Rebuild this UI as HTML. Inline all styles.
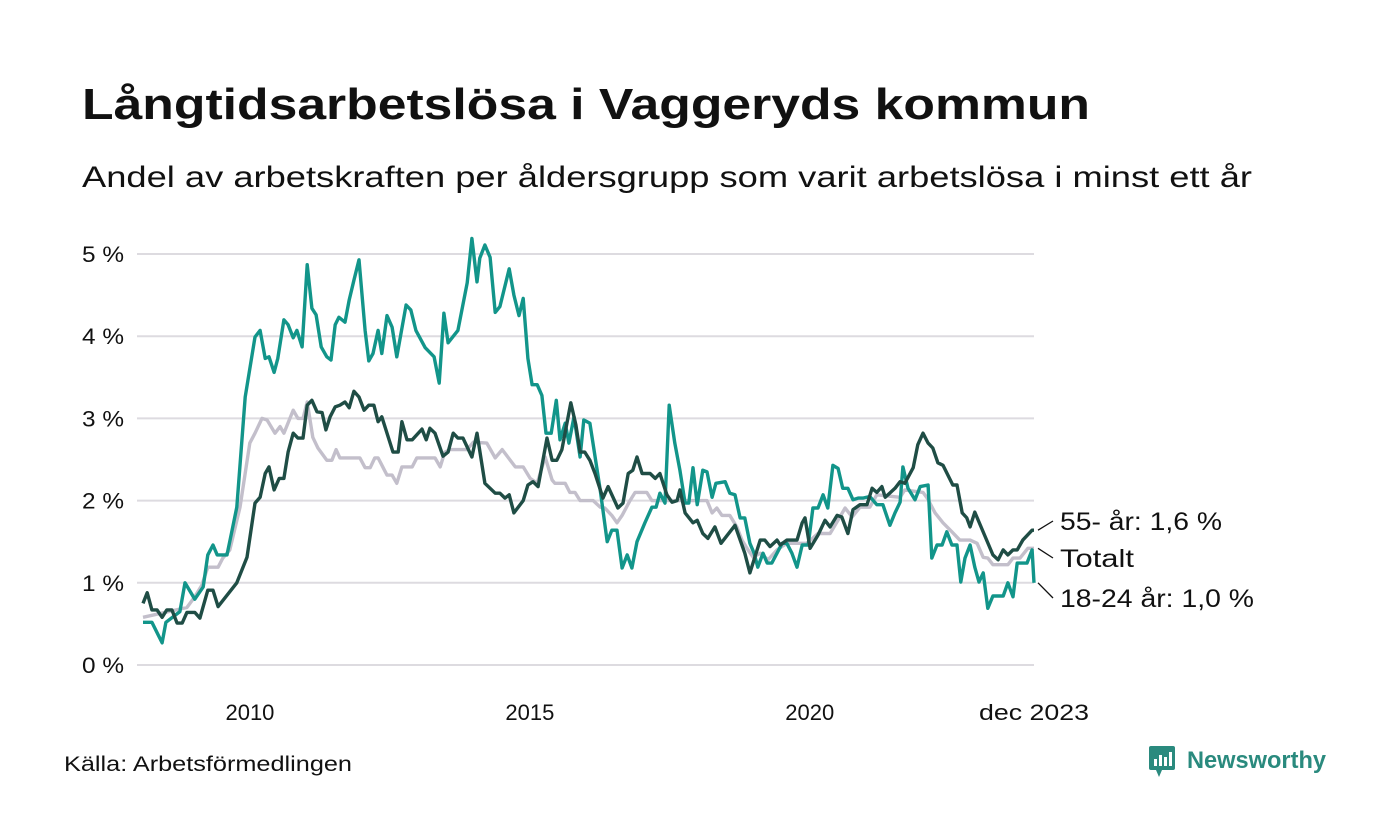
<!DOCTYPE html>
<html><head><meta charset="utf-8"><style>
body{margin:0;background:#fff;}
#wrap{position:relative;width:1400px;height:840px;overflow:hidden;font-family:"Liberation Sans","DejaVu Sans",sans-serif;color:#111;}
</style></head><body>
<div id="wrap">
<svg id="chart" width="1400" height="840">
<text x="82" y="119" font-size="44" font-weight="bold" fill="#111" textLength="1008" lengthAdjust="spacingAndGlyphs">Långtidsarbetslösa i Vaggeryds kommun</text>
<text x="82" y="187" font-size="30" fill="#111" textLength="1170" lengthAdjust="spacingAndGlyphs">Andel av arbetskraften per åldersgrupp som varit arbetslösa i minst ett år</text>
<g id="grid"></g><g id="xaxis"></g><g id="lines"></g><g id="labels"></g>
<text x="64" y="771" font-size="21" fill="#111" textLength="288" lengthAdjust="spacingAndGlyphs">Källa: Arbetsförmedlingen</text>
<g>
<rect x="1149" y="746" width="26" height="24" rx="2" fill="#2a8a7e"/>
<polygon points="1156,770 1162,770 1159,777" fill="#2a8a7e"/>
<rect x="1154" y="759" width="3" height="7" fill="#fff"/><rect x="1159" y="755" width="3" height="11" fill="#fff"/><rect x="1164" y="757" width="3" height="9" fill="#fff"/><rect x="1169" y="752" width="3" height="14" fill="#fff"/>
<text x="1187" y="768" font-size="24" font-weight="bold" fill="#2a8a7e" textLength="139" lengthAdjust="spacingAndGlyphs">Newsworthy</text>
</g>
</svg>
</div>
<script>
// months since Jan 2008 and values (%)
const yTicks=[0,1,2,3,4,5];
const xTickYears=[2010,2015,2020];
const youthMonths=[0,1.9,4.1,4.9,7.9,9.0,11.1,12.9,13.9,15.0,15.9,18.0,19.1,20.1,21.9,24.0,25.1,26.2,27.0,28.1,28.9,30.2,31.1,32.2,33.0,34.1,35.2,36.2,37.1,38.2,39.4,40.3,41.2,42.0,43.3,44.2,45.2,46.3,47.6,48.4,49.3,50.4,51.2,52.3,53.4,54.4,56.4,57.4,58.5,60.5,62.4,63.5,64.5,65.4,67.5,69.5,70.5,71.6,72.2,73.3,74.4,75.5,76.5,78.5,79.5,80.6,81.5,82.5,83.4,84.5,85.5,86.4,87.5,88.6,89.4,90.5,91.3,92.4,93.7,94.5,95.8,98.0,99.5,100.5,101.6,102.7,103.8,104.8,105.9,107.6,109.1,110.0,110.8,111.9,112.8,114.0,115.1,116.2,117.0,117.9,118.8,120.0,120.9,122.0,122.8,124.8,125.8,126.9,128.0,129.0,130.1,131.0,131.8,132.9,133.8,134.8,135.9,137.0,138.0,139.1,140.2,141.3,142.6,143.6,144.7,145.8,146.8,147.9,149.0,150.0,151.1,152.2,153.3,154.3,155.8,157.3,158.6,160.1,161.2,162.3,162.9,164.0,165.5,166.6,168.3,169.1,170.2,171.3,172.3,173.4,174.5,175.3,176.2,177.3,178.3,179.2,180.1,181.1,182.2,184.4,185.4,186.5,187.4,189.5,190.6,191.0];
const youthValues=[0.52,0.52,0.27,0.52,0.65,1.0,0.8,0.95,1.34,1.46,1.34,1.34,1.64,1.92,3.26,3.99,4.07,3.73,3.75,3.56,3.73,4.2,4.14,3.98,4.07,3.87,4.87,4.34,4.26,3.87,3.75,3.71,4.14,4.23,4.17,4.44,4.68,4.93,4.07,3.70,3.79,4.07,3.79,4.25,4.11,3.75,4.38,4.32,4.07,3.86,3.75,3.43,4.28,3.92,4.07,4.65,5.19,4.66,4.95,5.11,4.96,4.29,4.36,4.82,4.5,4.25,4.46,3.73,3.41,3.41,3.28,2.82,2.82,3.22,2.74,2.94,2.70,3.02,2.53,2.98,2.94,2.13,1.50,1.64,1.64,1.18,1.34,1.18,1.5,1.73,1.92,1.92,2.09,1.97,3.16,2.70,2.37,1.97,1.97,2.4,1.95,2.37,2.35,2.04,2.21,2.23,2.09,2.07,1.79,1.79,1.48,1.36,1.19,1.36,1.24,1.24,1.36,1.48,1.48,1.36,1.19,1.46,1.46,1.91,1.91,2.07,1.91,2.43,2.39,2.15,2.15,2.01,2.03,2.03,2.05,1.95,1.95,1.7,1.85,1.98,2.41,2.15,2.01,2.17,2.19,1.30,1.46,1.46,1.62,1.46,1.46,1.01,1.30,1.46,1.19,1.01,1.12,0.69,0.84,0.84,1.0,0.83,1.24,1.24,1.4,1.0];
const seniorMonths=[0,0.9,1.9,3.0,4.1,5.1,6.2,7.3,8.4,9.4,11.1,12.2,13.9,15.0,16.1,20.1,22.3,24.0,25.1,26.2,27.0,28.1,29.2,30.2,31.1,32.2,33.2,34.3,35.2,36.2,37.3,38.4,39.2,40.1,41.2,42.2,43.3,44.2,45.2,46.3,47.4,48.4,49.5,50.4,51.2,53.6,54.7,55.5,56.6,57.7,59.8,60.7,61.5,62.6,64.3,65.4,66.5,67.5,68.6,70.5,71.6,73.3,75.5,76.5,77.6,78.5,79.5,81.5,82.5,83.6,84.7,86.6,87.7,88.7,89.8,91.7,92.8,93.7,94.7,95.8,96.9,98.6,99.7,101.8,102.9,104.0,105.0,105.9,107.0,108.7,109.8,110.8,112.3,113.4,114.5,115.1,116.2,117.9,118.8,120.0,121.1,122.6,123.9,126.9,129.0,130.1,132.3,133.3,134.4,135.9,136.6,138.0,140.2,141.3,141.9,143.0,144.7,146.2,147.3,148.8,149.8,151.1,152.2,153.7,155.2,156.3,157.3,158.4,159.1,161.2,162.3,163.3,165.1,166.1,167.2,168.3,169.3,170.4,171.5,173.6,174.5,175.6,176.6,177.3,178.3,182.2,183.3,184.4,185.4,186.5,187.4,188.6,190.6,191.0];
const seniorValues=[0.75,0.88,0.67,0.67,0.58,0.67,0.67,0.51,0.51,0.64,0.64,0.57,0.91,0.91,0.71,1.0,1.31,1.97,2.04,2.33,2.41,2.13,2.27,2.27,2.59,2.82,2.76,2.76,3.16,3.22,3.08,3.07,2.86,3.02,3.14,3.16,3.2,3.13,3.33,3.26,3.1,3.16,3.16,2.96,3.02,2.59,2.59,2.96,2.74,2.74,2.87,2.74,2.88,2.82,2.54,2.59,2.82,2.76,2.76,2.53,2.82,2.21,2.09,2.09,2.03,2.07,1.85,2.0,2.19,2.23,2.17,2.76,2.49,2.49,2.62,3.19,2.92,2.59,2.59,2.49,2.33,2.03,2.17,1.91,1.97,2.33,2.37,2.53,2.33,2.33,2.27,2.33,2.07,1.98,2.0,2.13,1.85,1.73,1.76,1.6,1.54,1.68,1.48,1.7,1.36,1.12,1.52,1.52,1.44,1.52,1.46,1.52,1.52,1.73,1.79,1.42,1.58,1.76,1.68,1.82,1.8,1.6,1.89,1.95,1.95,2.15,2.1,2.17,2.04,2.15,2.23,2.21,2.4,2.68,2.82,2.7,2.64,2.46,2.43,2.19,2.19,1.85,1.79,1.68,1.86,1.34,1.28,1.4,1.34,1.4,1.4,1.52,1.64,1.64];
const totalMonths=[0,9.4,11.1,12.6,13.9,16.1,17.1,18.6,20.8,22.9,24.0,25.5,26.6,28.3,29.4,30.2,32.2,33.2,34.3,35.2,36.4,37.5,39.4,40.5,41.4,42.2,46.5,47.6,48.7,49.7,50.4,52.3,53.4,54.4,55.5,57.7,58.7,62.6,63.7,64.7,65.8,69.5,70.8,73.7,75.5,77.0,79.8,81.5,83.0,84.5,86.2,87.7,88.3,90.5,91.5,92.6,93.7,96.5,98.0,99.0,100.5,101.6,102.7,104.4,105.5,108.0,109.1,120.9,122.0,123.0,124.1,125.8,127.3,128.4,129.7,130.8,132.3,134.0,135.9,138.0,142.3,144.7,147.3,149.4,150.5,152.0,153.7,155.8,157.3,162.3,163.3,167.2,168.1,169.8,171.5,173.4,175.1,177.3,178.8,180.1,181.1,182.2,185.4,186.5,188.0,189.7,191.0];
const totalValues=[0.58,0.7,0.83,0.97,1.19,1.19,1.3,1.4,1.92,2.7,2.82,3.0,2.98,2.82,2.9,2.82,3.1,3.0,3.0,3.2,2.77,2.64,2.49,2.49,2.62,2.52,2.52,2.4,2.4,2.52,2.52,2.31,2.31,2.21,2.41,2.41,2.52,2.52,2.41,2.59,2.62,2.62,2.71,2.7,2.52,2.62,2.41,2.41,2.27,2.21,2.53,2.25,2.21,2.21,2.1,2.1,2.0,2.0,1.92,1.91,1.82,1.73,1.82,2.0,2.1,2.1,2.0,2.0,1.85,1.91,1.82,1.82,1.68,1.52,1.4,1.31,1.36,1.28,1.4,1.48,1.48,1.6,1.6,1.8,1.91,1.8,1.92,1.92,2.07,2.04,2.13,2.1,2.03,1.85,1.73,1.62,1.52,1.52,1.48,1.31,1.3,1.22,1.22,1.3,1.3,1.42,1.42];

const NS='http://www.w3.org/2000/svg';
const X0=143, X1=1034, M1=191, Y0=665, PXPCT=82.2;
function xs(m){return X0+(m/M1)*(X1-X0);}
function ys(v){return Y0-v*PXPCT;}
function mk(tag,attrs,parent){const e=document.createElementNS(NS,tag);for(const k in attrs)e.setAttribute(k,attrs[k]);parent.appendChild(e);return e;}
const grid=document.getElementById('grid');
yTicks.forEach(t=>{
  const l=mk('line',{x1:137,x2:1034,y1:ys(t),y2:ys(t),stroke:'#dddbe0','stroke-width':2},grid);
  
  
  const tx=mk('text',{x:124,y:ys(t)+8,'text-anchor':'end','font-size':22,fill:'#111',textLength:42,lengthAdjust:'spacingAndGlyphs'},grid);
  tx.textContent=t+' %';
  
  
});
const xa=document.getElementById('xaxis');
xTickYears.forEach(y=>{
  const tx=mk('text',{x:xs((y-2008)*12)-5,y:720,'text-anchor':'middle','font-size':22,fill:'#111'},xa);
  tx.textContent=y;
  
  
});
const last=mk('text',{x:xs(M1),y:720,'text-anchor':'middle','font-size':22,fill:'#111',textLength:110,lengthAdjust:'spacingAndGlyphs'},xa);
last.textContent='dec 2023';


const lines=document.getElementById('lines');
function draw(ms,vs,color,name){
  const d=ms.map((m,i)=>(i?'L':'M')+xs(m).toFixed(1)+','+ys(vs[i]).toFixed(1)).join('');
  const p=mk('path',{d:d,fill:'none',stroke:color,'stroke-width':3.4,'stroke-linejoin':'round'},lines);
  
  
}
draw(totalMonths,totalValues,'#c3bfcb','line-total');
draw(youthMonths,youthValues,'#12958a','line-18-24');
draw(seniorMonths,seniorValues,'#1f4d45','line-55-plus');
const lab=document.getElementById('labels');
const endLabels=[
 ['55- år: 1,6 %',seniorValues[seniorValues.length-1],521,'label-55-plus',162],
 ['Totalt',totalValues[totalValues.length-1],558,'label-total',74],
 ['18-24 år: 1,0 %',youthValues[youthValues.length-1],598,'label-18-24',194]];
endLabels.forEach(a=>{
  const l=mk('line',{x1:1038,y1:ys(a[1]),x2:1053,y2:a[2],stroke:'#111','stroke-width':1.3},lab);
  
  
  const t=mk('text',{x:1060,y:a[2]+9,'font-size':25,fill:'#111',textLength:a[4],lengthAdjust:'spacingAndGlyphs'},lab);
  t.textContent=a[0];
  
  
});
</script>
</body></html>
